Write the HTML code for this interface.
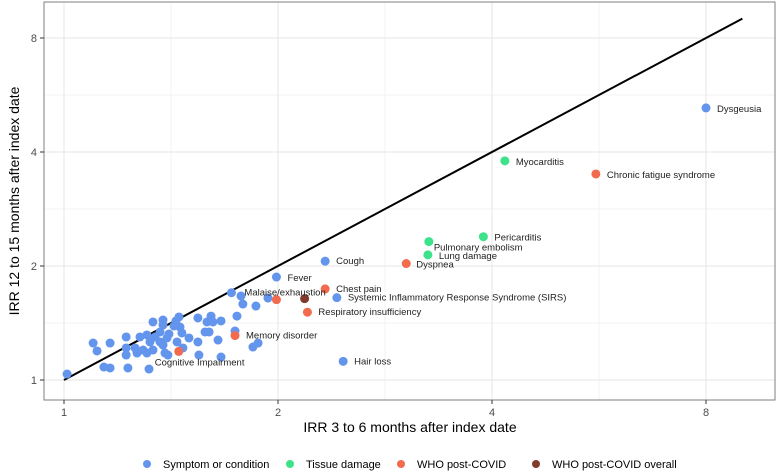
<!DOCTYPE html>
<html><head><meta charset="utf-8"><style>
body{margin:0;background:#fff;}
svg{display:block;font-family:"Liberation Sans",Arial,sans-serif;}
</style></head><body>
<svg id="chart" width="777" height="472">
<rect x="0" y="0" width="777" height="472" fill="#fff"/>
<g id="grid"></g>
<line id="diag" stroke="#000" stroke-width="2"/>
<g id="pts"></g>
<g id="lbls"></g>
<rect x="44" y="2" width="731" height="398" fill="none" stroke="#7f7f7f" stroke-width="1"/>
<g id="axes"></g>
<text x="410" y="432" font-size="14" text-anchor="middle" fill="#000">IRR 3 to 6 months after index date</text>
<text transform="translate(19,201) rotate(-90)" font-size="14" text-anchor="middle" fill="#000">IRR 12 to 15 months after index date</text>
<g id="legend"></g>
</svg>
<script>
const xTicks=[1,2,4,8];
const yTicks=[1,2,4,8];
const catColors={"Symptom or condition":"#6495ED","Tissue damage":"#3DE38A","WHO post-COVID":"#F36B4F","WHO post-COVID overall":"#833A2E"};
const categories=["Symptom or condition","Tissue damage","WHO post-COVID","WHO post-COVID overall"];
// labelled points
const labNames=["Dysgeusia","Myocarditis","Chronic fatigue syndrome","Pericarditis","Pulmonary embolism","Lung damage","Dyspnea","Cough","Fever","Chest pain","Malaise/exhaustion","Systemic Inflammatory Response Syndrome (SIRS)","Respiratory insufficiency","Memory disorder","Cognitive Impairment","Hair loss"];
const labX=[8.0,4.17,5.6,3.89,3.26,3.25,3.03,2.33,1.99,2.33,1.72,2.42,2.20,1.74,1.45,2.47];
const labY=[5.23,3.79,3.5,2.39,2.32,2.14,2.03,2.06,1.87,1.74,1.70,1.65,1.51,1.31,1.19,1.12];
const labCat=[0,1,2,1,1,1,2,0,0,2,0,0,2,2,2,0];
// unlabelled points
const otherX=[1.774,1.785,1.862,1.936,1.751,1.740,1.663,1.610,1.589,1.620,1.543,1.579,1.600,1.543,1.647,1.844,1.875,1.663,1.548,1.499,1.470,1.451,1.437,1.428,1.456,1.465,1.442,1.405,1.396,1.378,1.378,1.334,1.365,1.365,1.378,1.387,1.400,1.343,1.321,1.334,1.308,1.279,1.292,1.308,1.259,1.267,1.223,1.223,1.223,1.161,1.099,1.113,1.138,1.161,1.230,1.317,1.010,1.99,2.18];
const otherY=[1.667,1.587,1.568,1.646,1.475,1.347,1.432,1.475,1.423,1.423,1.458,1.339,1.339,1.260,1.275,1.222,1.252,1.150,1.164,1.291,1.215,1.467,1.432,1.389,1.380,1.331,1.260,1.323,1.291,1.440,1.397,1.423,1.339,1.260,1.237,1.178,1.164,1.299,1.260,1.200,1.315,1.299,1.200,1.178,1.215,1.178,1.299,1.215,1.164,1.252,1.252,1.193,1.082,1.076,1.076,1.069,1.037,1.63,1.64];
const otherCat=[0,0,0,0,0,0,0,0,0,0,0,0,0,0,0,0,0,0,0,0,0,0,0,0,0,0,0,0,0,0,0,0,0,0,0,0,0,0,0,0,0,0,0,0,0,0,0,0,0,0,0,0,0,0,0,0,0,2,3];
// label offsets (pixels, ggrepel placement)
const labDx=[11,11,11,11,5,11,10,11,11,11,13,11,11,11,-24,11];
const labDy=[4,4,4,4,9,4,4,3,4,3,3,3,3,3,14,3];

const NS="http://www.w3.org/2000/svg";
const X0=64,XS=214,Y0=380,YS=114;
function sx(v){return X0+Math.log2(v)*XS;}
function sy(v){return Y0-Math.log2(v)*YS;}
function mk(tag,attrs,parent){const e=document.createElementNS(NS,tag);for(const k in attrs)e.setAttribute(k,attrs[k]);parent.appendChild(e);return e;}

const grid=document.getElementById('grid');
for(let i=0;i<=3;i++){
  const xv=Math.pow(2,i+0.5);
  if(sx(xv)<775){const l=mk('line',{x1:sx(xv),x2:sx(xv),y1:2,y2:400,stroke:'#f3f3f3','stroke-width':1},grid);
  
  }
  const yv=Math.pow(2,i-0.5);
  if(sy(yv)>2&&sy(yv)<400){const l2=mk('line',{x1:44,x2:775,y1:sy(yv),y2:sy(yv),stroke:'#f3f3f3','stroke-width':1},grid);
  
  }
}
const axes=document.getElementById('axes');
xTicks.forEach(t=>{
  const l=mk('line',{x1:sx(t),x2:sx(t),y1:2,y2:400,stroke:'#e6e6e6','stroke-width':1},grid);
  
  
  const tk=mk('line',{x1:sx(t),x2:sx(t),y1:400,y2:404,stroke:'#333'},axes);
  
  
  const tx=mk('text',{x:sx(t),y:416,'font-size':11,'text-anchor':'middle',fill:'#4d4d4d'},axes);
  tx.textContent=t;
  
  
});
yTicks.forEach(t=>{
  const l=mk('line',{x1:44,x2:775,y1:sy(t),y2:sy(t),stroke:'#e6e6e6','stroke-width':1},grid);
  
  
  const tk=mk('line',{x1:40,x2:44,y1:sy(t),y2:sy(t),stroke:'#333'},axes);
  
  
  const tx=mk('text',{x:37,y:sy(t)+4,'font-size':11,'text-anchor':'end',fill:'#4d4d4d'},axes);
  tx.textContent=t;
  
  
});
const d=document.getElementById('diag');
d.setAttribute('x1',sx(1));d.setAttribute('y1',sy(1));
d.setAttribute('x2',sx(9));d.setAttribute('y2',sy(9));

const pts=document.getElementById('pts');
otherX.forEach((v,i)=>{
  const c=mk('circle',{cx:sx(v),cy:sy(otherY[i]),r:4.5,fill:catColors[categories[otherCat[i]]]},pts);
  
  
});
const lbls=document.getElementById('lbls');
labX.forEach((v,i)=>{
  const c=mk('circle',{cx:sx(v),cy:sy(labY[i]),r:4.5,fill:catColors[categories[labCat[i]]]},pts);
  
  
  const t=mk('text',{x:sx(v)+labDx[i],y:sy(labY[i])+labDy[i],'font-size':9.5,fill:'#222'},lbls);
  t.textContent=labNames[i];
  
  
});
const leg=document.getElementById('legend');
const legX=[147,290,401,536];
categories.forEach((c,i)=>{
  const dot=mk('circle',{cx:legX[i],cy:464,r:4,fill:catColors[c]},leg);
  
  
  const t=mk('text',{x:legX[i]+16,y:468,'font-size':11,fill:'#000'},leg);
  t.textContent=c;
  
  
});
</script>
</body></html>
